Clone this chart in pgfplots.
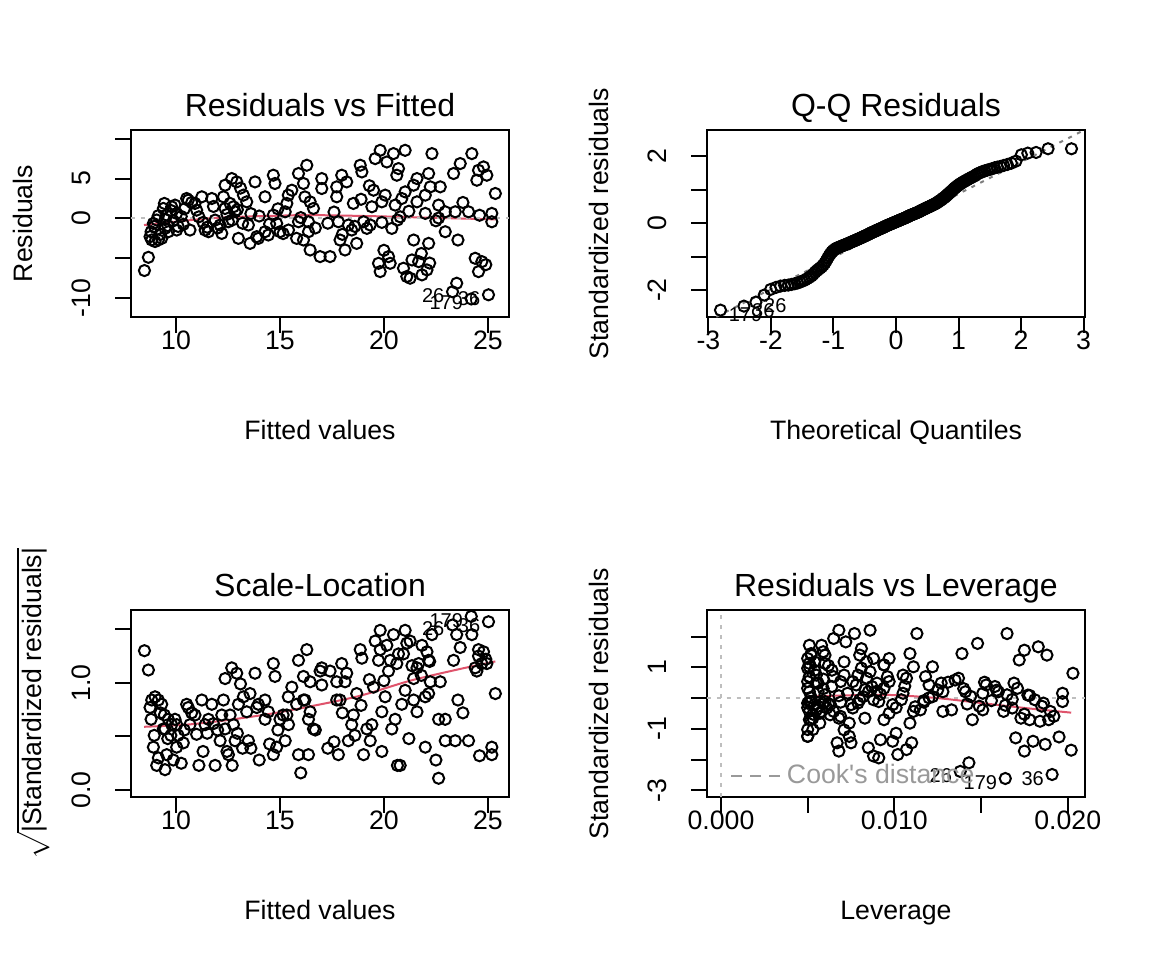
\documentclass[border=0pt]{standalone}
\usepackage{fontspec}
\setmainfont{Liberation Sans}
\usepackage{pgfplots}
\usepackage{pgfplotstable}
\pgfplotsset{compat=1.18}

\definecolor{lowessred}{HTML}{DF536B}
\definecolor{zerogray}{HTML}{BEBEBE}
\definecolor{qqgray}{HTML}{7F7F7F}
\definecolor{cookgray}{HTML}{999999}

% fitted value, residual, leverage, standardized residual, sqrt(|std. residual|)
\pgfplotstableread{
fit res lev std sqr
8.48 -6.54 0.0202 -1.69 1.30
8.67 -4.88 0.0195 -1.26 1.12
8.75 -2.29 0.0192 -0.59 0.77
8.83 -2.70 0.0189 -0.70 0.84
8.99 -2.90 0.0184 -0.75 0.87
9.15 -2.70 0.0178 -0.70 0.84
9.31 -2.50 0.0173 -0.65 0.80
8.91 -0.63 0.0186 -0.16 0.40
9.07 -0.20 0.0181 -0.05 0.23
8.80 -1.67 0.0190 -0.43 0.66
9.44 1.88 0.0169 0.49 0.70
9.39 1.25 0.0171 0.32 0.57
9.55 0.42 0.0165 0.11 0.33
9.79 1.46 0.0158 0.38 0.61
9.95 1.67 0.0153 0.43 0.66
10.03 0.63 0.0151 0.16 0.40
9.63 -1.67 0.0163 -0.43 0.66
9.47 -1.25 0.0168 -0.32 0.57
10.03 -1.46 0.0151 -0.38 0.61
10.51 2.50 0.0137 0.65 0.80
10.59 2.29 0.0135 0.59 0.77
10.91 1.88 0.0127 0.49 0.70
10.99 1.04 0.0125 0.27 0.52
10.67 -1.46 0.0133 -0.38 0.61
11.24 2.71 0.0118 0.70 0.84
11.72 2.50 0.0107 0.65 0.80
11.88 -0.21 0.0104 -0.05 0.23
11.40 -1.46 0.0115 -0.38 0.61
11.56 -1.67 0.0111 -0.43 0.66
12.12 -0.83 0.0099 -0.21 0.46
12.36 4.17 0.0094 1.08 1.04
12.28 2.71 0.0096 0.70 0.84
12.68 5.00 0.0088 1.29 1.14
12.92 4.58 0.0084 1.18 1.09
12.36 1.25 0.0094 0.32 0.57
12.60 1.88 0.0090 0.49 0.70
12.76 1.46 0.0087 0.38 0.61
12.84 0.83 0.0085 0.21 0.46
12.52 -0.42 0.0091 -0.11 0.33
12.20 -1.88 0.0097 -0.49 0.70
13.00 -2.50 0.0083 -0.65 0.80
13.24 2.92 0.0079 0.75 0.87
13.40 2.08 0.0076 0.54 0.73
13.48 -0.83 0.0075 -0.21 0.46
13.56 -3.13 0.0074 -0.81 0.90
13.80 4.58 0.0071 1.18 1.09
13.88 -2.29 0.0069 -0.59 0.77
13.96 -2.50 0.0068 -0.65 0.80
14.28 2.71 0.0065 0.70 0.84
14.28 -1.67 0.0065 -0.43 0.66
14.44 -2.08 0.0063 -0.54 0.73
14.68 5.42 0.0060 1.40 1.18
14.76 4.38 0.0060 1.13 1.06
14.68 0.42 0.0060 0.11 0.33
14.84 -0.63 0.0059 -0.16 0.40
15.00 -1.67 0.0058 -0.43 0.66
15.33 1.88 0.0055 0.49 0.70
15.40 2.92 0.0055 0.75 0.87
15.57 3.54 0.0054 0.91 0.96
15.25 0.83 0.0056 0.21 0.46
15.41 -1.46 0.0055 -0.38 0.61
15.89 5.63 0.0052 1.45 1.21
16.29 6.67 0.0051 1.72 1.31
16.13 4.38 0.0051 1.13 1.06
15.80 -2.50 0.0053 -0.65 0.80
16.13 -2.71 0.0051 -0.70 0.84
15.89 -0.42 0.0052 -0.11 0.33
16.37 -0.42 0.0051 -0.11 0.33
16.37 -1.67 0.0051 -0.43 0.66
16.45 -3.96 0.0050 -1.02 1.01
16.45 2.08 0.0050 0.54 0.73
16.61 1.25 0.0050 0.32 0.57
16.93 -4.79 0.0050 -1.24 1.11
17.01 5.00 0.0050 1.29 1.14
17.01 3.75 0.0050 0.97 0.98
17.41 -4.79 0.0050 -1.24 1.11
17.73 3.96 0.0051 1.02 1.01
17.73 2.71 0.0051 0.70 0.84
17.97 5.42 0.0052 1.40 1.18
18.21 4.58 0.0054 1.18 1.09
17.81 -0.42 0.0052 -0.11 0.33
17.89 -2.71 0.0052 -0.70 0.84
18.13 -3.96 0.0053 -1.02 1.01
18.29 -0.83 0.0054 -0.21 0.46
18.45 -1.46 0.0055 -0.38 0.61
18.53 1.88 0.0056 0.49 0.70
18.69 -3.13 0.0057 -0.81 0.90
18.86 6.67 0.0058 1.72 1.31
18.94 5.83 0.0059 1.51 1.23
19.02 -0.42 0.0060 -0.11 0.33
19.18 -1.25 0.0061 -0.32 0.57
19.34 -0.83 0.0063 -0.21 0.46
19.42 1.46 0.0064 0.38 0.61
19.50 3.54 0.0064 0.91 0.96
19.58 7.50 0.0065 1.94 1.39
19.74 -5.63 0.0067 -1.45 1.21
19.82 8.54 0.0068 2.21 1.49
19.82 -6.67 0.0068 -1.72 1.31
19.90 2.08 0.0069 0.54 0.73
20.06 2.92 0.0071 0.75 0.87
20.14 7.08 0.0072 1.83 1.35
20.22 -4.79 0.0074 -1.24 1.11
20.30 -5.63 0.0075 -1.45 1.21
20.38 -1.25 0.0076 -0.32 0.57
20.46 8.13 0.0077 2.10 1.45
20.54 1.67 0.0078 0.43 0.66
20.62 5.42 0.0080 1.40 1.18
20.70 6.25 0.0081 1.61 1.27
20.78 0.20 0.0082 0.05 0.23
20.86 2.50 0.0084 0.65 0.80
20.94 -6.25 0.0085 -1.61 1.27
21.02 8.54 0.0086 2.21 1.49
21.02 3.33 0.0086 0.86 0.93
21.10 -7.29 0.0088 -1.88 1.37
21.26 -7.50 0.0091 -1.94 1.39
21.35 -5.21 0.0092 -1.35 1.16
21.43 -2.71 0.0094 -0.70 0.84
21.43 4.17 0.0094 1.08 1.04
21.59 2.08 0.0097 0.54 0.73
21.59 5.00 0.0097 1.29 1.14
21.67 -5.42 0.0099 -1.40 1.18
21.83 -7.08 0.0102 -1.83 1.35
21.99 2.92 0.0105 0.75 0.87
21.99 0.63 0.0105 0.16 0.40
22.07 -6.46 0.0107 -1.67 1.29
22.15 -3.13 0.0109 -0.81 0.90
22.15 5.63 0.0109 1.45 1.21
22.23 3.96 0.0111 1.02 1.01
22.31 8.13 0.0113 2.10 1.45
22.63 1.67 0.0120 0.43 0.66
22.63 0.05 0.0120 0.01 0.11
22.71 3.96 0.0122 1.02 1.01
22.95 0.83 0.0128 0.21 0.46
22.95 -1.67 0.0128 -0.43 0.66
23.43 0.83 0.0141 0.21 0.46
23.35 5.63 0.0139 1.45 1.21
23.50 -8.13 0.0143 -2.10 1.45
23.56 -2.71 0.0145 -0.70 0.84
23.67 6.88 0.0148 1.78 1.33
24.07 0.83 0.0160 0.21 0.46
24.23 8.13 0.0165 2.10 1.45
24.39 -5.00 0.0170 -1.29 1.14
24.47 4.79 0.0172 1.24 1.11
24.55 6.04 0.0175 1.56 1.25
24.55 -6.67 0.0175 -1.72 1.31
24.71 -5.42 0.0180 -1.40 1.18
24.79 6.46 0.0183 1.67 1.29
24.95 5.42 0.0188 1.40 1.18
25.03 -9.58 0.0191 -2.48 1.57
25.19 0.63 0.0197 0.16 0.40
25.19 -0.42 0.0197 -0.11 0.33
25.36 3.13 0.0203 0.81 0.90
24.20 -10.10 0.0164 -2.61 1.62
23.30 -9.20 0.0138 -2.38 1.54
9.15 0.35 0.0178 0.09 0.30
9.47 -0.14 0.0168 -0.04 0.19
9.87 -0.30 0.0156 -0.08 0.28
8.95 -1.00 0.0185 -0.26 0.51
9.25 -2.00 0.0175 -0.52 0.72
9.60 -0.90 0.0164 -0.23 0.48
9.75 1.00 0.0159 0.26 0.51
10.25 0.25 0.0144 0.06 0.25
10.35 -0.75 0.0142 -0.19 0.44
10.75 2.00 0.0131 0.52 0.72
11.10 0.20 0.0122 0.05 0.23
11.50 -1.10 0.0112 -0.28 0.53
12.00 -1.20 0.0101 -0.31 0.56
12.45 0.50 0.0092 0.13 0.36
12.70 -0.20 0.0088 -0.05 0.23
12.95 1.10 0.0083 0.28 0.53
13.20 -0.60 0.0079 -0.16 0.39
14.00 0.30 0.0068 0.08 0.28
14.50 -0.70 0.0062 -0.18 0.43
15.15 -1.90 0.0057 -0.49 0.70
16.00 0.10 0.0052 0.03 0.16
17.30 -0.60 0.0050 -0.16 0.39
18.60 -1.00 0.0056 -0.26 0.51
19.90 -0.50 0.0069 -0.13 0.36
21.20 0.90 0.0090 0.23 0.48
22.50 -0.30 0.0117 -0.08 0.28
23.80 2.00 0.0152 0.52 0.72
24.60 0.40 0.0177 0.10 0.32
19.30 4.10 0.0062 1.06 1.03
10.10 -1.00 0.0149 -0.26 0.51
11.80 1.50 0.0106 0.39 0.62
13.60 0.60 0.0073 0.16 0.39
14.90 1.20 0.0059 0.31 0.56
16.70 -1.20 0.0050 -0.31 0.56
17.60 0.80 0.0051 0.21 0.45
18.00 -2.00 0.0053 -0.52 0.72
20.00 -4.00 0.0071 -1.03 1.02
21.80 -4.40 0.0101 -1.14 1.07
10.40 1.20 0.0140 0.31 0.56
11.30 -0.50 0.0117 -0.13 0.36
13.10 3.80 0.0081 0.98 0.99
16.20 2.70 0.0051 0.70 0.84
18.90 2.40 0.0059 0.62 0.79
20.65 -0.20 0.0080 -0.05 0.23
22.20 -5.60 0.0110 -1.45 1.20
24.90 -5.80 0.0187 -1.50 1.22
}\diagdata

% the three most extreme observations
\pgfplotstableread{
fit res lev std sqr id
23.30 -9.20 0.0138 -2.38 1.54 26
24.20 -10.10 0.0164 -2.61 1.62 179
25.03 -9.58 0.0191 -2.48 1.57 36
}\extremes

% normal quantiles and ordered standardized residuals
\pgfplotstableread{
q s
-2.807 -2.60
-2.432 -2.48
-2.241 -2.36
-2.108 -2.15
-2.005 -1.98
-1.919 -1.92
-1.846 -1.88
-1.780 -1.86
-1.722 -1.85
-1.669 -1.83
-1.621 -1.81
-1.576 -1.79
-1.534 -1.76
-1.495 -1.73
-1.457 -1.70
-1.422 -1.66
-1.388 -1.62
-1.356 -1.58
-1.326 -1.53
-1.296 -1.47
-1.267 -1.42
-1.240 -1.38
-1.213 -1.34
-1.188 -1.30
-1.163 -1.25
-1.138 -1.19
-1.115 -1.12
-1.092 -1.04
-1.069 -0.97
-1.047 -0.91
-1.026 -0.86
-1.005 -0.82
-0.984 -0.79
-0.964 -0.76
-0.944 -0.74
-0.925 -0.73
-0.906 -0.71
-0.887 -0.70
-0.869 -0.68
-0.851 -0.67
-0.833 -0.66
-0.815 -0.64
-0.798 -0.63
-0.781 -0.62
-0.764 -0.60
-0.747 -0.59
-0.731 -0.58
-0.714 -0.56
-0.698 -0.55
-0.682 -0.54
-0.667 -0.52
-0.651 -0.51
-0.636 -0.50
-0.620 -0.49
-0.605 -0.47
-0.590 -0.46
-0.576 -0.45
-0.561 -0.44
-0.546 -0.42
-0.532 -0.41
-0.518 -0.40
-0.503 -0.39
-0.489 -0.37
-0.475 -0.36
-0.461 -0.35
-0.447 -0.34
-0.433 -0.32
-0.420 -0.31
-0.406 -0.30
-0.392 -0.28
-0.379 -0.27
-0.366 -0.26
-0.352 -0.25
-0.339 -0.24
-0.326 -0.23
-0.312 -0.22
-0.299 -0.20
-0.286 -0.19
-0.273 -0.18
-0.260 -0.17
-0.247 -0.16
-0.234 -0.15
-0.221 -0.14
-0.208 -0.13
-0.196 -0.12
-0.183 -0.10
-0.170 -0.09
-0.157 -0.08
-0.145 -0.07
-0.132 -0.06
-0.119 -0.05
-0.107 -0.04
-0.094 -0.03
-0.082 -0.02
-0.069 -0.01
-0.056 0.00
-0.044 0.01
-0.031 0.02
-0.019 0.03
-0.006 0.04
0.006 0.05
0.019 0.06
0.031 0.07
0.044 0.08
0.056 0.09
0.069 0.10
0.082 0.11
0.094 0.12
0.107 0.13
0.119 0.14
0.132 0.15
0.145 0.16
0.157 0.17
0.170 0.18
0.183 0.19
0.196 0.21
0.208 0.22
0.221 0.23
0.234 0.24
0.247 0.25
0.260 0.26
0.273 0.27
0.286 0.28
0.299 0.29
0.312 0.30
0.326 0.31
0.339 0.32
0.352 0.33
0.366 0.34
0.379 0.36
0.392 0.37
0.406 0.38
0.420 0.40
0.433 0.41
0.447 0.42
0.461 0.43
0.475 0.45
0.489 0.46
0.503 0.47
0.518 0.48
0.532 0.50
0.546 0.51
0.561 0.52
0.576 0.54
0.590 0.55
0.605 0.56
0.620 0.58
0.636 0.59
0.651 0.61
0.667 0.63
0.682 0.65
0.698 0.67
0.714 0.69
0.731 0.71
0.747 0.74
0.764 0.76
0.781 0.78
0.798 0.81
0.815 0.84
0.833 0.87
0.851 0.90
0.869 0.93
0.887 0.96
0.906 0.99
0.925 1.03
0.944 1.06
0.964 1.09
0.984 1.12
1.005 1.15
1.026 1.18
1.047 1.20
1.069 1.23
1.092 1.25
1.115 1.28
1.138 1.30
1.163 1.33
1.188 1.35
1.213 1.38
1.240 1.40
1.267 1.43
1.296 1.47
1.326 1.50
1.356 1.52
1.388 1.55
1.422 1.57
1.457 1.59
1.495 1.61
1.534 1.63
1.576 1.66
1.621 1.68
1.669 1.70
1.722 1.73
1.780 1.76
1.846 1.80
1.919 1.86
2.005 2.05
2.108 2.10
2.241 2.12
2.432 2.23
2.807 2.23
}\qqdata

\pgfplotstableread{
q s id
-2.807 -2.60 179
-2.432 -2.48 36
-2.241 -2.36 26
}\qqextremes

\pgfplotsset{
  diag/.style={
    scale only axis, width=141.8pt, height=69.9pt, clip=false,
    axis line style={line width=0.75pt},
    tick align=outside, tick pos=left, major tick length=5.9pt,
    every tick/.style={black, line width=0.75pt},
    scaled ticks=false,
    xticklabel style={font=\fontsize{10}{12}\selectfont, anchor=base},
    yticklabel style={font=\fontsize{10}{12}\selectfont, rotate=90, anchor=base},
    xticklabel shift=6.3pt, yticklabel shift=9.1pt,
    every axis title/.style={at={(axis description cs:0.5,1)}, anchor=base,
      yshift=5.3pt, font=\fontsize{12}{14}\selectfont},
    every axis x label/.style={at={(axis description cs:0.5,0)}, anchor=base,
      yshift=-46pt, font=\fontsize{10}{12}\selectfont},
    every axis y label/.style={at={(axis description cs:-0.2616,0.5)}, anchor=base,
      rotate=90, font=\fontsize{10}{12}\selectfont},
  },
  pts/.style={only marks, mark=o, mark size=2.1pt,
    mark options={black, line width=0.75pt}},
  smoother/.style={lowessred, line width=0.75pt, mark=none, smooth},
  dotted ref/.style={line width=0.75pt, mark=none, dash pattern=on 1.5pt off 2.2pt},
  idlabel/.style={draw=none, mark=none, nodes near coords,
    point meta=explicit symbolic,
    every node near coord/.append style={anchor=#1, inner sep=0pt,
      font=\fontsize{7.5}{9}\selectfont, text=black}},
  idleft/.style={idlabel=east,
    every node near coord/.append style={xshift=-2.9pt, yshift=-1.5pt}},
  idright/.style={idlabel=west,
    every node near coord/.append style={xshift=2.9pt, yshift=-1.5pt}},
}

\begin{document}
\begin{tikzpicture}
\useasboundingbox (0,0) rectangle (432pt,360pt);

% ---------------- Residuals vs Fitted
\begin{axis}[diag, at={(49.1pt,241.2pt)}, anchor=south west,
  xmin=7.83, xmax=26.02, ymin=-12.34, ymax=11.04,
  xtick={10,15,20,25}, xticklabels={10,15,20,25},
  ytick={-10,-5,0,5,10}, yticklabels={-10,,0,5,},
  title={Residuals vs Fitted}, xlabel={Fitted values}, ylabel={Residuals}]
  \addplot[pts] table[x=fit, y=res] {\diagdata};
  \addplot[smoother] coordinates {(8.46,-0.83) (9.95,-0.42) (11.56,0.0)
    (13.16,0.21) (14.76,0.33) (16.45,0.42) (19.66,0.27) (22.07,0.10) (25.36,-0.12)};
  \addplot[dotted ref, zerogray] coordinates {(7.83,0) (26.02,0)};
  \addplot[idleft] table[x=fit, y=res, meta=id] {\extremes};
\end{axis}

% ---------------- Q-Q Residuals
\begin{axis}[diag, at={(265.1pt,241.2pt)}, anchor=south west,
  xmin=-3.024, xmax=3.024, ymin=-2.80, ymax=2.78,
  xtick={-3,-2,-1,0,1,2,3}, xticklabels={-3,-2,-1,0,1,2,3},
  ytick={-2,-1,0,1,2}, yticklabels={-2,,0,,2},
  title={Q-Q Residuals}, xlabel={Theoretical Quantiles},
  ylabel={Standardized residuals}]
  \addplot[pts] table[x=q, y=s] {\qqdata};
  \addplot[dotted ref, qqgray] coordinates {(-2.874,-2.80) (3.0,2.78)};
  \addplot[idright] table[x=q, y=s, meta=id] {\qqextremes};
\end{axis}

% ---------------- Scale-Location
\begin{axis}[diag, at={(49.1pt,61.2pt)}, anchor=south west,
  xmin=7.83, xmax=26.02, ymin=-0.063, ymax=1.676,
  xtick={10,15,20,25}, xticklabels={10,15,20,25},
  ytick={0,0.5,1,1.5}, yticklabels={0.0,,1.0,},
  title={Scale-Location}, xlabel={Fitted values},
  ylabel={$\sqrt{\mbox{|Standardized residuals|}}$},
  ylabel style={at={(axis description cs:-0.2365,0.5)}}]
  \addplot[pts] table[x=fit, y=sqr] {\diagdata};
  \addplot[smoother] coordinates {(8.46,0.59) (10.5,0.61) (12.36,0.65) (14.5,0.71)
    (16.45,0.78) (18.86,0.88) (21.26,1.02) (23.67,1.13) (25.36,1.20)};
  \addplot[idleft] table[x=fit, y=sqr, meta=id] {\extremes};
\end{axis}

% ---------------- Residuals vs Leverage
\begin{axis}[diag, at={(265.1pt,61.2pt)}, anchor=south west,
  xmin=-0.00081, xmax=0.02100, ymin=-3.205, ymax=2.853,
  xtick={0,0.005,0.01,0.015,0.02}, xticklabels={0.000,,0.010,,0.020},
  ytick={-3,-2,-1,0,1,2}, yticklabels={-3,,-1,,1,},
  title={Residuals vs Leverage}, xlabel={Leverage},
  ylabel={Standardized residuals},
  legend style={at={(axis description cs:0,0)}, anchor=south west,
    xshift=8.6pt, yshift=3.2pt, draw=none, fill=none, inner sep=0pt,
    font=\fontsize{10}{12}\selectfont, text=cookgray,
    cells={anchor=west}, nodes={inner sep=0pt}},
  legend image code/.code={
    \draw[cookgray, line width=0.75pt, dash pattern=on 3.9pt off 3.2pt]
      (0pt,0pt) -- (18.1pt,0pt);
    \path (20.65pt,0pt);}]
  \addlegendimage{cookgray}
  \addlegendentry{Cook\textquotesingle s distance}
  \addplot[dotted ref, zerogray, forget plot] coordinates {(0,-3.205) (0,2.853)};
  \addplot[dotted ref, zerogray, forget plot] coordinates {(-0.00081,0) (0.021,0)};
  \addplot[pts, forget plot] table[x=lev, y=std] {\diagdata};
  \addplot[smoother, forget plot] coordinates {(0.00494,0.05) (0.0065,0.08)
    (0.008,0.10) (0.0100,0.10) (0.01254,0.0) (0.01504,-0.16) (0.01771,-0.33)
    (0.0202,-0.47)};
  \addplot[idleft, forget plot] table[x=lev, y=std, meta=id] {\extremes};
\end{axis}
\end{tikzpicture}
\end{document}
